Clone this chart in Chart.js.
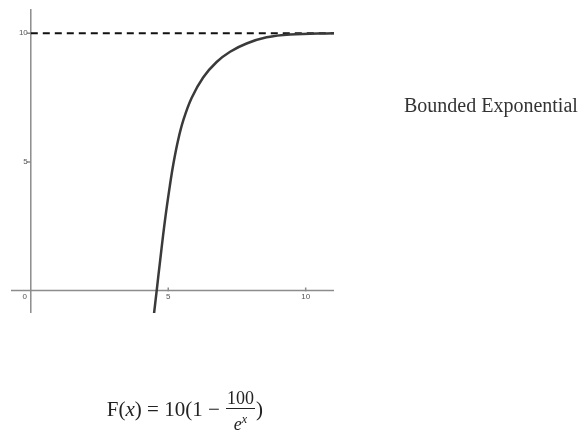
<!DOCTYPE html>
<html>
<head>
<meta charset="utf-8">
<script src="https://cdn.jsdelivr.net/npm/chart.js@4/dist/chart.umd.min.js"></script>
<style>
  html, body { margin: 0; padding: 0; background: #fff; }
  #wrap { position: relative; width: 579px; height: 433px; overflow: hidden; }
  #title { position: absolute; left: 404px; top: 94px; font: 20px 'Liberation Serif', serif; color: #333; white-space: nowrap; }
  #formula { position: absolute; right: 316px; top: 388px; font: 21px 'Liberation Serif', serif; color: #222; white-space: nowrap; }
  .frac { display: inline-block; vertical-align: middle; text-align: center; font-size: 18px; line-height: 20px; margin: 0 1px; }
  .frac .num { border-bottom: 1.3px solid #222; padding: 0 1px; }
  .frac sup { font-size: 12px; }
</style>
</head>
<body>
<div id="wrap">
  <canvas id="myChart"></canvas>
  <div id="title">Bounded Exponential</div>
  <div id="formula">F(<i>x</i>) = 10(1 − <span class="frac"><div class="num">100</div><div><i>e</i><sup><i>x</i></sup></div></span>)</div>
</div>
<script>
// points
const curveX = [4.48, 4.58, 4.70, 4.88, 5.06, 5.18, 5.36, 5.55, 5.85, 6.27, 6.76, 7.25, 7.85, 8.58, 9.43, 11.03];
const curveY = [-0.92, 0, 1.12, 2.72, 4.08, 4.88, 5.85, 6.62, 7.48, 8.28, 8.88, 9.28, 9.6, 9.84, 9.95, 10.0];
const asymptote = 10;
const xTicks = [5, 10];
const yTicks = [5, 10];
const xRange = [-0.72, 11.03];
const yRange = [-0.87, 10.94];

// axes through the origin, drawn under the curve
const axisPlugin = {
    id: 'axes',
    beforeDatasetsDraw(chart) {
        const { ctx, chartArea: a, scales: { x, y } } = chart;
        const x0 = x.getPixelForValue(0);
        const y0 = y.getPixelForValue(0);
        ctx.save();
        ctx.strokeStyle = '#8c8c8c';
        ctx.lineWidth = 1.5;
        ctx.beginPath();
        ctx.moveTo(a.left, y0); ctx.lineTo(a.right, y0);
        ctx.moveTo(x0, a.top); ctx.lineTo(x0, a.bottom);
        xTicks.forEach(v => {
            const px = x.getPixelForValue(v);
            ctx.moveTo(px, y0 - 3); ctx.lineTo(px, y0 + 1);
        });
        yTicks.forEach(v => {
            const py = y.getPixelForValue(v);
            ctx.moveTo(x0 - 4, py); ctx.lineTo(x0, py);
        });
        ctx.stroke();

        ctx.fillStyle = '#555';
        ctx.font = '8px "Liberation Sans", Arial, sans-serif';
        ctx.textAlign = 'center';
        ctx.textBaseline = 'top';
        xTicks.forEach(v => ctx.fillText(String(v), x.getPixelForValue(v), y0 + 2));
        ctx.fillText('0', x0 - 6, y0 + 2);
        ctx.textAlign = 'right';
        ctx.textBaseline = 'middle';
        yTicks.forEach(v => ctx.fillText(String(v), x0 - 3, y.getPixelForValue(v)));
        ctx.restore();
    }
};

const ctx = document.getElementById('myChart').getContext('2d');
const myChart = new Chart(ctx, {
    type: 'scatter',
    data: {
        datasets: [{
            data: curveX.map((v, i) => ({ x: v, y: curveY[i] })),
            showLine: true,
            borderColor: '#3a3a3a',
            borderWidth: 2.5,
            pointRadius: 0,
            tension: 0.4
        }, {
            data: [{ x: 0, y: asymptote }, { x: xRange[1], y: asymptote }],
            showLine: true,
            borderColor: '#111',
            borderWidth: 2,
            borderDash: [7, 5],
            pointRadius: 0
        }]
    },
    options: {
        responsive: true,
        maintainAspectRatio: false,
        animation: false,
        layout: { padding: { left: 11, top: 9, right: 245, bottom: 120 } },
        plugins: { legend: { display: false }, tooltip: { enabled: false } },
        scales: {
            x: { type: 'linear', display: false, min: xRange[0], max: xRange[1] },
            y: { type: 'linear', display: false, min: yRange[0], max: yRange[1] }
        }
    },
    plugins: [axisPlugin]
});
</script>
</body>
</html>
